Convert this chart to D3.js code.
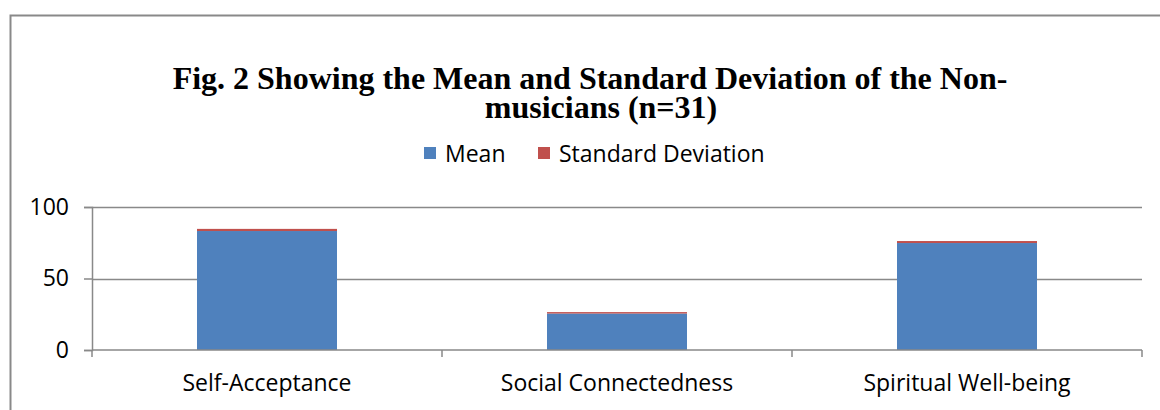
<!DOCTYPE html>
<html>
<head>
<meta charset="utf-8">
<script src="https://cdn.jsdelivr.net/npm/d3@7"></script>
<style>
  body { margin: 0; background: #fff; }
  svg { display: block; }
</style>
</head>
<body>
<div id="chart"></div>
<script>
var categories = ["Self-Acceptance", "Social Connectedness", "Spiritual Well-being"];
var meanValues = [83.2, 25.5, 74.8];
var sdValues = [1.5, 1.0, 1.4];
var seriesNames = ["Mean", "Standard Deviation"];
var seriesColors = ["#4F81BD", "#C0504D"];
var yTicks = [0, 50, 100];

var W = 1160, H = 410;
var margin = {top: 207, right: 18, bottom: 60, left: 92};
var width = W - margin.left - margin.right,
    height = H - margin.top - margin.bottom;
var labelFont = "'Open Sans', Lato, sans-serif";

var svg = d3.select("#chart").append("svg")
    .attr("width", W)
    .attr("height", H);

// outer chart border (runs off the right and bottom edges)
svg.append("rect")
    .attr("x", 10.5).attr("y", 15.5)
    .attr("width", 1300).attr("height", 600)
    .attr("fill", "none")
    .attr("stroke", "#898989")
    .attr("stroke-width", 2);

// title, two lines
var titleLines = ["Fig. 2 Showing the Mean and Standard Deviation of the Non-", "musicians (n=31)"];
var titlePos = [[590, 89], [601, 118]];
svg.selectAll(".title")
    .data(titleLines)
    .enter().append("text")
    .attr("class", "title")
    .attr("x", function(d, i) { return titlePos[i][0]; })
    .attr("y", function(d, i) { return titlePos[i][1]; })
    .attr("text-anchor", "middle")
    .style("font-family", "'Liberation Serif', 'Times New Roman', serif")
    .style("font-weight", "bold")
    .style("font-size", "32px")
    .attr("fill", "#000")
    .text(function(d) { return d; });

// legend
var legend = svg.append("g").attr("transform", "translate(424,147)");
var legendX = [0, 114];
seriesNames.forEach(function(name, i) {
    var lg = legend.append("g").attr("transform", "translate(" + legendX[i] + ",0)");
    lg.append("rect").attr("width", 12).attr("height", 12).attr("fill", seriesColors[i]);
    lg.append("text")
        .attr("x", 21).attr("y", 15)
        .style("font-family", labelFont)
        .style("font-size", "23px")
        .attr("fill", "#000")
        .text(name);
});

var g = svg.append("g")
    .attr("transform", "translate(" + margin.left + "," + margin.top + ")");

var x = d3.scaleBand()
    .domain(categories)
    .range([0, width])
    .paddingInner(0.6)
    .paddingOuter(0.3);

var y = d3.scaleLinear()
    .domain([0, 100])
    .range([height, 0]);

// gridlines
g.append("g").selectAll("line")
    .data(yTicks.filter(function(d) { return d > 0; }))
    .enter().append("line")
    .attr("x1", 0).attr("x2", width)
    .attr("y1", function(d) { return Math.round(y(d)) + 0.5; })
    .attr("y2", function(d) { return Math.round(y(d)) + 0.5; })
    .attr("stroke", "#898989")
    .attr("stroke-width", 1.5);

// stacked bars
var rows = categories.map(function(c, i) {
    return {cat: c, Mean: meanValues[i], "Standard Deviation": sdValues[i]};
});
var stack = d3.stack().keys(seriesNames)(rows);

g.selectAll(".series")
    .data(stack)
    .enter().append("g")
    .attr("fill", function(d, i) { return seriesColors[i]; })
    .selectAll("rect")
    .data(function(d) { return d; })
    .enter().append("rect")
    .attr("x", function(d) { return x(d.data.cat); })
    .attr("width", x.bandwidth())
    .attr("y", function(d) { return y(d[1]); })
    .attr("height", function(d) { return y(d[0]) - y(d[1]); });

// y axis
var yAxis = g.append("g")
    .call(d3.axisLeft(y).tickValues(yTicks).tickSize(8).tickPadding(15));
yAxis.select(".domain").attr("stroke", "#898989").attr("stroke-width", 1.5);
yAxis.selectAll(".tick line").attr("stroke", "#898989").attr("stroke-width", 1.5);
yAxis.selectAll("text")
    .style("font-family", labelFont)
    .style("font-size", "23px")
    .attr("fill", "#000");

// x axis: ticks at category boundaries
var boundaries = [0].concat(categories.map(function(c) {
    return x(c) + x.bandwidth() + (x.step() - x.bandwidth()) / 2;
}));
var xAxis = g.append("g").attr("transform", "translate(0," + height + ")");
xAxis.append("line")
    .attr("x1", 0).attr("x2", width)
    .attr("y1", 0).attr("y2", 0)
    .attr("stroke", "#898989").attr("stroke-width", 1.5);
xAxis.selectAll(".bt")
    .data(boundaries)
    .enter().append("line")
    .attr("class", "bt")
    .attr("x1", function(d) { return Math.round(d); })
    .attr("x2", function(d) { return Math.round(d); })
    .attr("y1", 0).attr("y2", 7)
    .attr("stroke", "#898989").attr("stroke-width", 1.5);
xAxis.selectAll(".lbl")
    .data(categories)
    .enter().append("text")
    .attr("class", "lbl")
    .attr("x", function(d) { return x(d) + x.bandwidth() / 2; })
    .attr("y", 41)
    .attr("text-anchor", "middle")
    .style("font-family", labelFont)
    .style("font-size", "23px")
    .attr("fill", "#000")
    .text(function(d) { return d; });
</script>
</body>
</html>
